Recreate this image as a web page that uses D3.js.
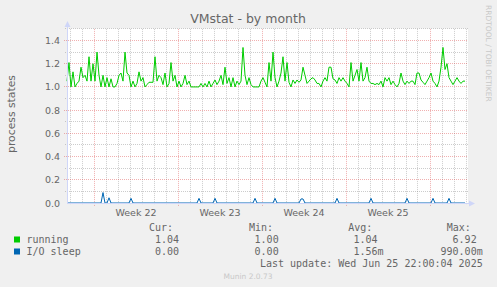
<!DOCTYPE html>
<html>
<head>
<meta charset="utf-8">
<script src="https://cdn.jsdelivr.net/npm/d3@7"></script>
<style>
  body { margin: 0; background: #f0f0f0; }
  text { font-family: "DejaVu Sans", sans-serif; fill: #666666; }
  .mono { font-family: "DejaVu Sans Mono", monospace; white-space: pre; }
</style>
</head>
<body>
<div id="chart"></div>
<script>
// samples every 4 hours starting Fri May 23 18:00
const startTime = Date.UTC(2025, 4, 23, 18);
const stepHours = 4;

const running = [
  1.05, 1.21, 1.00, 1.13, 1.00, 1.03, 1.05, 1.17, 1.08, 1.10,
  1.05, 1.26, 1.05, 1.20, 1.05, 1.30, 1.10, 1.00, 1.10, 1.00,
  1.08, 1.00, 1.07, 1.00, 1.00, 1.03, 1.10, 1.12, 1.05, 1.30,
  1.12, 1.10, 1.00, 1.05, 1.00, 1.03, 1.13, 1.05, 1.08, 1.00,
  1.02, 1.04, 1.04, 1.04, 1.26, 1.05, 1.10, 1.08, 1.02, 1.12,
  1.00, 1.03, 1.21, 1.05, 1.10, 1.00, 1.05, 1.00, 1.03, 1.10,
  1.02, 1.05, 1.00, 1.00, 1.00, 1.00, 1.00, 1.03, 1.00, 1.03,
  1.00, 1.05, 1.00, 1.03, 1.06, 1.02, 1.05, 1.10, 1.02, 1.17,
  1.03, 1.08, 1.00, 1.08, 1.00, 1.05, 1.02, 1.05, 1.34, 1.10,
  1.02, 1.08, 1.02, 1.00, 1.00, 1.00, 1.00, 1.05, 1.08, 1.04,
  1.00, 1.21, 1.05, 1.30, 1.08, 1.00, 1.05, 1.12, 1.26, 1.05,
  1.21, 1.04, 1.00, 1.06, 1.03, 1.06, 1.04, 1.06, 1.17, 1.10,
  1.03, 1.05, 1.07, 1.08, 1.06, 1.03, 1.03, 1.00, 1.05, 1.08,
  1.05, 1.17, 1.17, 1.07, 1.06, 1.03, 1.08, 1.05, 1.08, 1.05,
  1.03, 1.00, 1.21, 1.05, 1.10, 1.15, 1.05, 1.21, 1.05, 1.08,
  1.17, 1.05, 1.03, 1.03, 1.02, 1.03, 1.02, 1.05, 1.00, 1.08,
  1.05, 1.08, 1.02, 1.05, 1.02, 1.00, 1.03, 1.12, 1.05, 1.02,
  1.05, 1.03, 1.05, 1.05, 1.02, 1.12, 1.12, 1.06, 1.04, 1.02,
  1.05, 1.08, 1.12, 1.05, 1.03, 1.00, 1.05, 1.17, 1.34, 1.15,
  1.20, 1.08, 1.05, 1.02, 1.05, 1.08, 1.05, 1.03, 1.05, 1.05
];

const ioSleep = [
  0, 0, 0, 0, 0, 0, 0, 0, 0, 0, 0, 0, 0, 0, 0, 0, 0, 0, 0.09, 0,
  0, 0.045, 0, 0, 0, 0, 0, 0, 0, 0, 0, 0, 0.04, 0, 0, 0, 0, 0, 0, 0,
  0, 0, 0, 0, 0, 0, 0, 0, 0, 0, 0, 0, 0, 0, 0, 0, 0, 0, 0, 0,
  0, 0, 0, 0, 0, 0, 0.04, 0, 0, 0, 0, 0, 0, 0, 0.04, 0, 0, 0, 0, 0,
  0, 0, 0, 0, 0, 0, 0, 0, 0, 0, 0, 0, 0, 0, 0.04, 0, 0, 0, 0, 0,
  0, 0, 0, 0, 0.04, 0, 0, 0, 0, 0, 0, 0, 0, 0, 0, 0, 0, 0.035, 0.035, 0,
  0, 0, 0, 0, 0, 0, 0, 0, 0, 0, 0, 0, 0, 0, 0, 0.04, 0, 0, 0, 0,
  0, 0, 0, 0, 0, 0, 0, 0, 0, 0, 0, 0, 0.04, 0, 0, 0, 0, 0, 0, 0,
  0, 0, 0, 0, 0, 0, 0, 0, 0, 0, 0.04, 0, 0, 0, 0, 0, 0, 0, 0, 0,
  0, 0, 0, 0.04, 0, 0, 0, 0, 0, 0, 0, 0.04, 0, 0, 0, 0, 0, 0, 0, 0
];

const seriesNames = ["running", "I/O sleep"];
const curValues = ["1.04 ", "0.00 "];
const minValues = ["1.00 ", "0.00 "];
const avgValues = ["1.04 ", "1.56m"];
const maxValues = ["6.92 ", "990.00m"];
const legendHeads = ["Cur:", "Min:", "Avg:", "Max:"];

const weekLabels = ["Week 22", "Week 23", "Week 24", "Week 25"];
const weekStarts = ["2025-05-26", "2025-06-02", "2025-06-09", "2025-06-16"];
const yTicks = [0, 0.2, 0.4, 0.6, 0.8, 1.0, 1.2, 1.4];

const colors = ["#00cc00", "#0066b3"];
const width = 497, height = 287;
const plot = { left: 67, right: 467, top: 28.9, bottom: 203 };

const svg = d3.select("#chart").append("svg")
    .attr("width", width)
    .attr("height", height);

svg.append("rect").attr("width", width).attr("height", height).attr("fill", "#f0f0f0");

const x = d3.scaleUtc()
    .domain([new Date(startTime), new Date(Date.UTC(2025, 5, 26, 2))])
    .range([plot.left, plot.right]);

const y = d3.scaleLinear()
    .domain([0, 1.5])
    .range([plot.bottom, plot.top]);

const times = running.map((d, i) => new Date(startTime + i * stepHours * 3600e3));
const px = v => Math.floor(v) + 0.5;

// canvas
svg.append("rect")
    .attr("x", plot.left).attr("y", plot.top - 0.5)
    .attr("width", plot.right - plot.left + 1)
    .attr("height", plot.bottom - plot.top + 0.5)
    .attr("fill", "#ffffff");

// grid
const majorCol = "rgba(222,79,79,0.45)";
const minorCol = "rgba(143,143,143,0.45)";
const grid = svg.append("g");
const days = d3.utcDay.range(x.domain()[0], x.domain()[1]);
days.forEach(d => {
    const major = d.getUTCDay() === 1;
    grid.append("line")
        .attr("x1", px(x(d))).attr("x2", px(x(d)))
        .attr("y1", plot.top).attr("y2", plot.bottom + (major ? 3 : 2))
        .attr("stroke", major ? majorCol : minorCol)
        .attr("stroke-dasharray", "1,1");
});

d3.range(1, 16).map(v => v / 10).forEach(v => {
    const major = Math.round(v * 10) % 2 === 0;
    grid.append("line")
        .attr("x1", plot.left - (major ? 3 : 2)).attr("x2", plot.right + 1)
        .attr("y1", px(y(v))).attr("y2", px(y(v)))
        .attr("stroke", major ? majorCol : minorCol)
        .attr("stroke-dasharray", "1,1");
});

// y tick labels
svg.append("g").selectAll("text")
    .data(yTicks)
    .enter().append("text")
    .attr("x", 60)
    .attr("y", d => y(d) + 3.5)
    .attr("text-anchor", "end")
    .attr("font-size", "9.5px")
    .text(d => d3.format(".1f")(d));

// week labels
svg.append("g").selectAll("text")
    .data(weekLabels)
    .enter().append("text")
    .attr("x", (d, i) => x(d3.utcHour.offset(new Date(weekStarts[i]), 84)))
    .attr("y", 216)
    .attr("text-anchor", "middle")
    .attr("font-size", "9.5px")
    .text(d => d);

// series
const line = d3.line()
    .x((d, i) => x(times[i]))
    .y(d => y(d));

[running, ioSleep].forEach((s, k) => {
    svg.append("path")
        .datum(s)
        .attr("d", line)
        .attr("fill", "none")
        .attr("stroke", colors[k])
        .attr("stroke-width", 1);
});

// axes + arrows
const axisCol = "#cfd6f8";
svg.append("line")
    .attr("x1", plot.left + 0.5).attr("x2", plot.left + 0.5)
    .attr("y1", 25).attr("y2", plot.bottom + 1)
    .attr("stroke", axisCol);
svg.append("line")
    .attr("x1", plot.left).attr("x2", 470)
    .attr("y1", plot.bottom + 0.5).attr("y2", plot.bottom + 0.5)
    .attr("stroke", axisCol);
svg.append("path")
    .attr("d", "M64.5,27 L67.5,21 L70.5,27 Z")
    .attr("fill", axisCol);
svg.append("path")
    .attr("d", `M469,${plot.bottom - 2.5} L475,${plot.bottom + 0.5} L469,${plot.bottom + 3.5} Z`)
    .attr("fill", axisCol);

// title and labels
svg.append("text")
    .attr("x", 248).attr("y", 22.5)
    .attr("text-anchor", "middle")
    .attr("font-size", "12.5px")
    .text("VMstat - by month");

svg.append("text")
    .attr("transform", "translate(14.5,114) rotate(-90)")
    .attr("text-anchor", "middle")
    .attr("font-size", "10.8px")
    .text("process states");

svg.append("text")
    .attr("transform", "translate(485.5,5) rotate(90)")
    .attr("font-size", "7.5px")
    .style("fill", "#c8c8c8")
    .text("RRDTOOL / TOBI OETIKER");

// legend
const headX = [149, 249, 348.3, 446.7];
const colRight = [185, 284.7, 383.5, 482.7];
const legend = svg.append("g").attr("font-size", "10px");

legend.selectAll(".head")
    .data(legendHeads)
    .enter().append("text")
    .attr("class", "mono")
    .attr("x", (d, i) => headX[i])
    .attr("y", 230.5)
    .text(d => d);

seriesNames.forEach((name, k) => {
    const by = 242.5 + k * 12;
    legend.append("rect")
        .attr("x", 14).attr("y", by - 6)
        .attr("width", 6).attr("height", 6)
        .attr("fill", colors[k]);
    legend.append("text")
        .attr("class", "mono")
        .attr("x", 26.5).attr("y", by)
        .text(name);
    [curValues, minValues, avgValues, maxValues].forEach((col, c) => {
        legend.append("text")
            .attr("class", "mono")
            .attr("x", colRight[c]).attr("y", by)
            .attr("text-anchor", "end")
            .text(col[k]);
    });
});

legend.append("text")
    .attr("class", "mono")
    .attr("x", 482.7).attr("y", 266.5)
    .attr("text-anchor", "end")
    .text("Last update: Wed Jun 25 22:00:04 2025");

svg.append("text")
    .attr("x", 248).attr("y", 279)
    .attr("text-anchor", "middle")
    .attr("font-size", "7.5px")
    .style("fill", "#c8c8c8")
    .text("Munin 2.0.73");
</script>
</body>
</html>
